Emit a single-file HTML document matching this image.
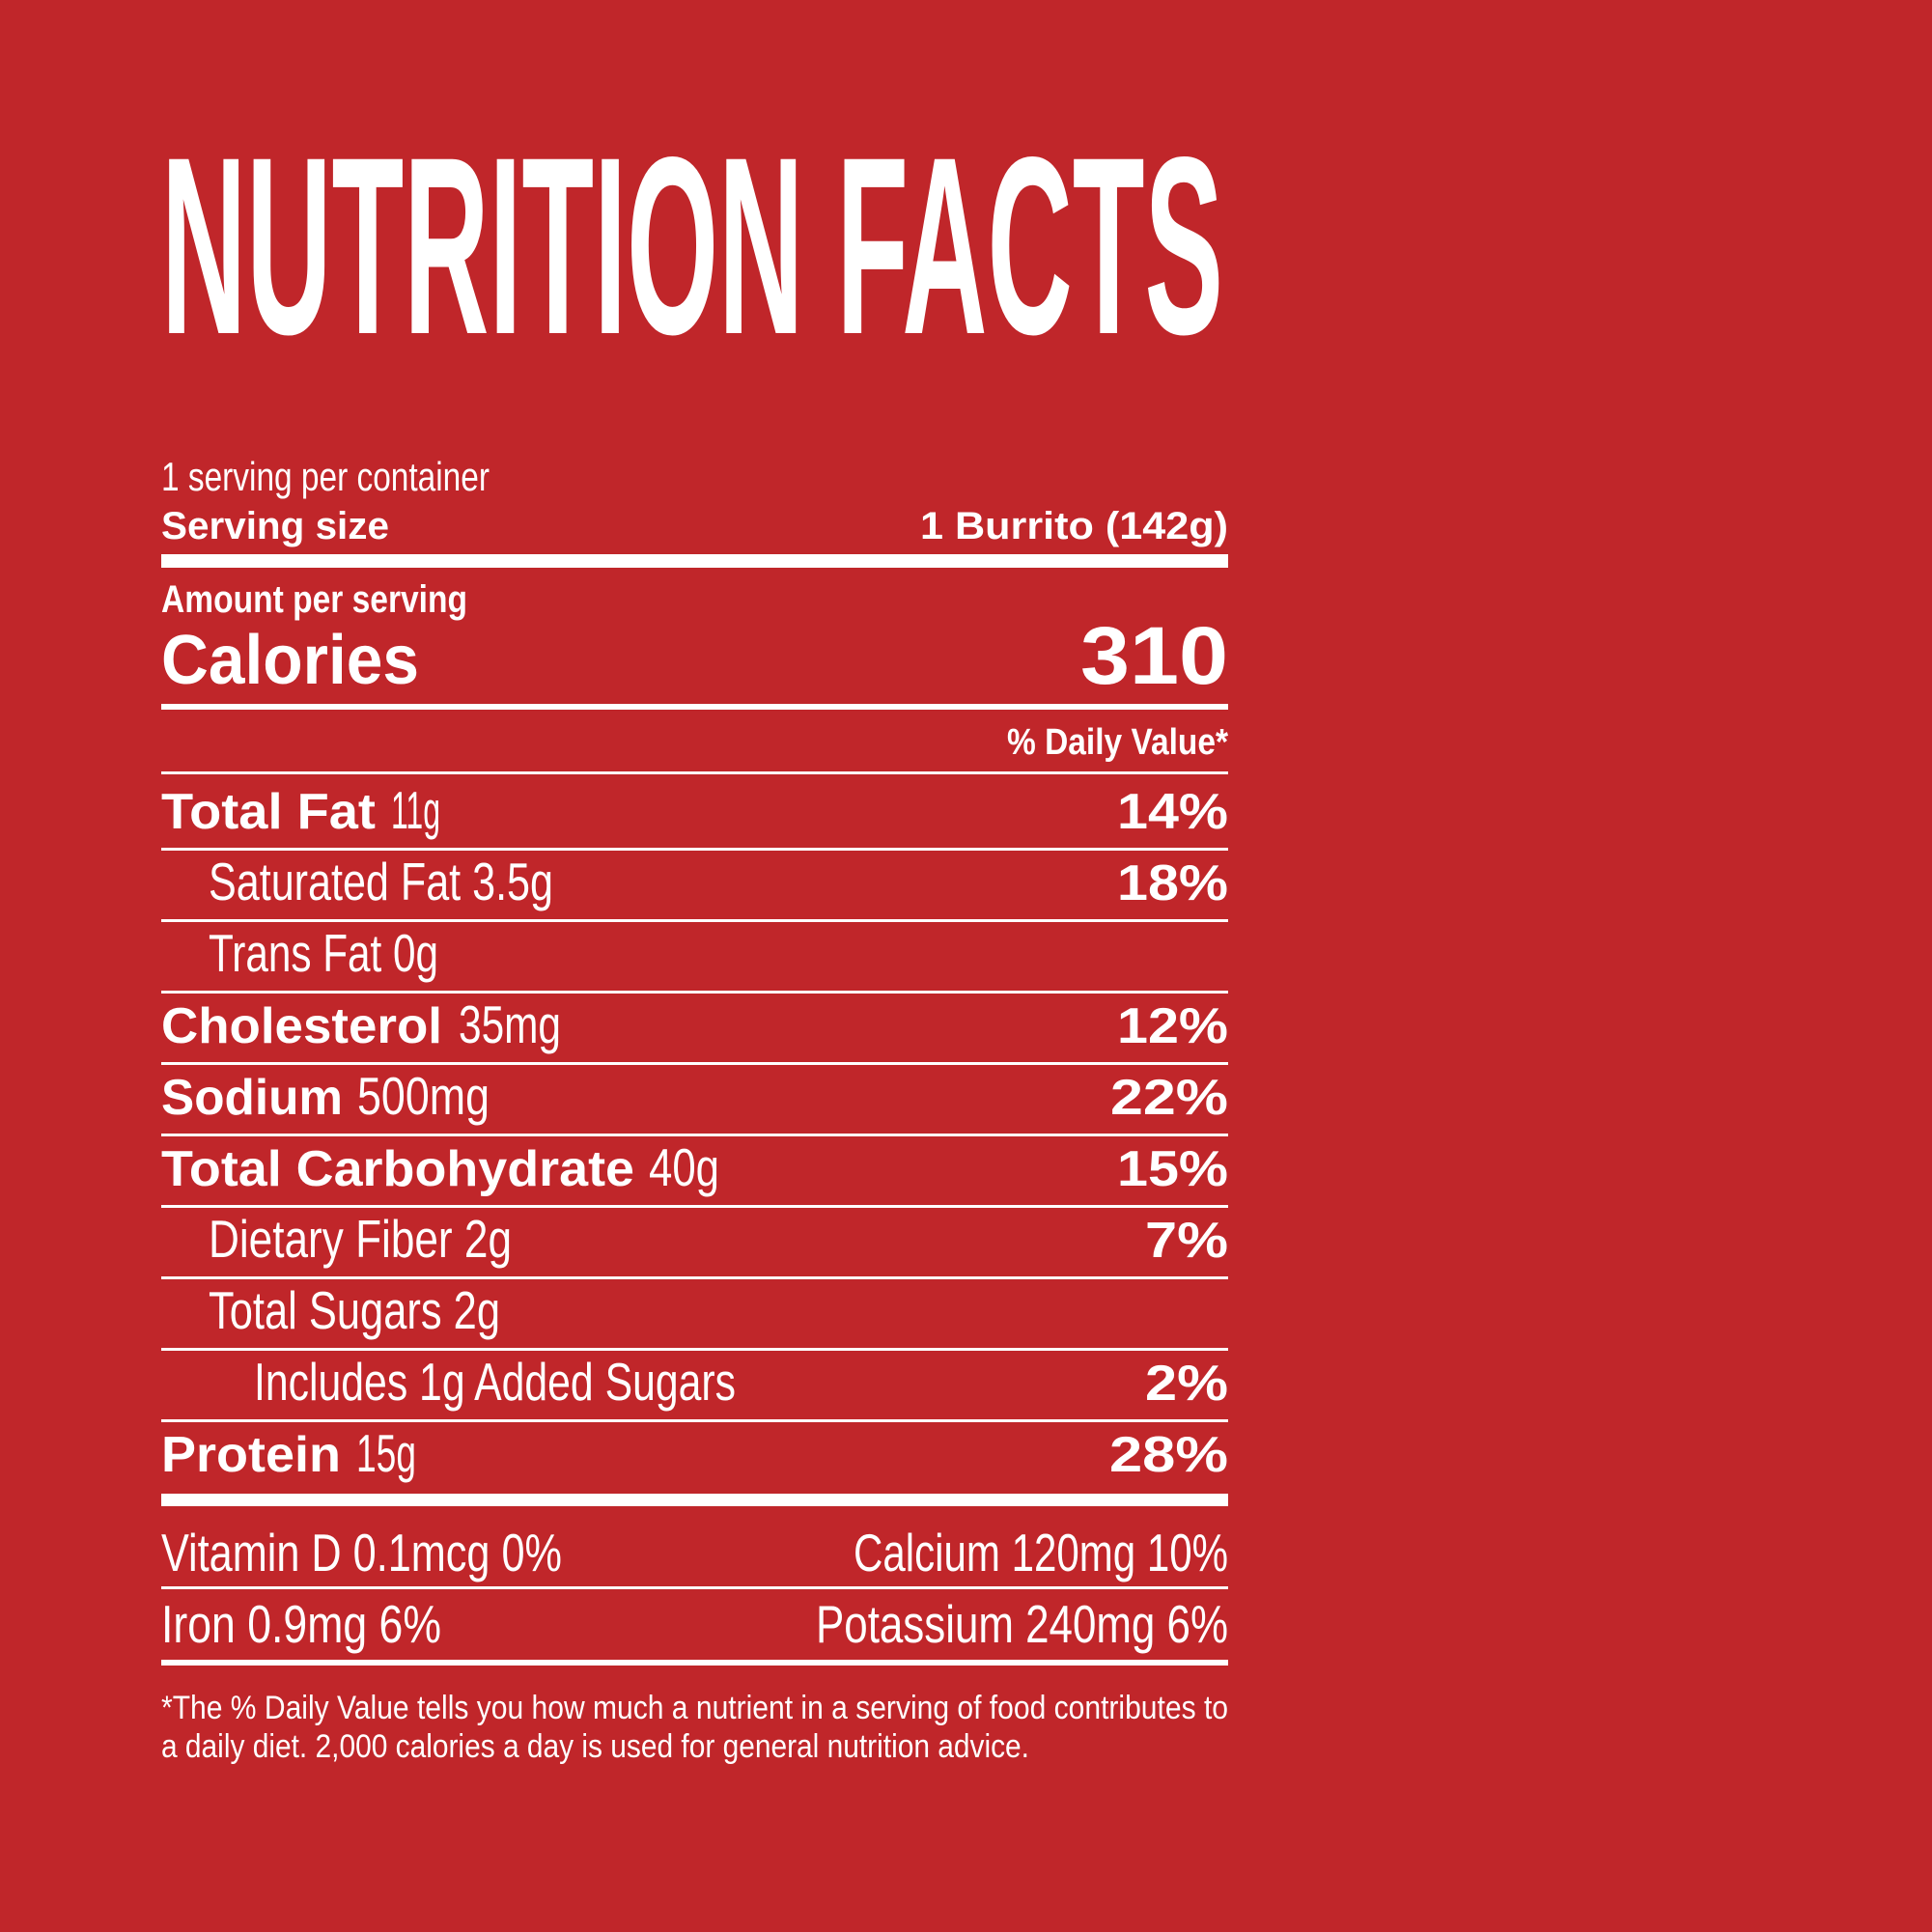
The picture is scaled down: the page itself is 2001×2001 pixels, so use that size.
<!DOCTYPE html>
<html><head><meta charset="utf-8"><style>
html,body{margin:0;padding:0;background:#c0262a}
svg{display:block}
text{fill:#fff;font-family:"Liberation Sans",sans-serif}
.b{font-weight:bold}
</style></head><body>
<svg width="2001" height="2001" viewBox="0 0 2001 2001">
<rect width="2001" height="2001" fill="#c0262a"/>
<text class="b" x="167" y="345" font-size="262" textLength="1100" lengthAdjust="spacingAndGlyphs">NUTRITION FACTS</text>

<text x="167" y="508" font-size="42" textLength="340" lengthAdjust="spacingAndGlyphs">1 serving per container</text>
<text class="b" x="167" y="558" font-size="40" textLength="236" lengthAdjust="spacingAndGlyphs">Serving size</text>
<text class="b" x="953" y="558" font-size="40" textLength="319" lengthAdjust="spacingAndGlyphs">1 Burrito (142g)</text>
<rect x="167" y="574" width="1105" height="14" fill="#fff"/>

<text class="b" x="167" y="634" font-size="40" textLength="317" lengthAdjust="spacingAndGlyphs">Amount per serving</text>
<text class="b" x="167" y="708" font-size="72" textLength="267" lengthAdjust="spacingAndGlyphs">Calories</text>
<text class="b" x="1119" y="708" font-size="84" textLength="153" lengthAdjust="spacingAndGlyphs">310</text>
<rect x="167" y="729" width="1105" height="6" fill="#fff"/>
<text class="b" x="1043" y="781" font-size="38" textLength="229" lengthAdjust="spacingAndGlyphs">% Daily Value*</text>
<rect x="167" y="799" width="1105" height="3" fill="#fff"/>

<g id="rows"></g>

<rect x="167" y="1547" width="1105" height="13" fill="#fff"/>
<text x="167" y="1627" font-size="55" textLength="415" lengthAdjust="spacingAndGlyphs">Vitamin D 0.1mcg 0%</text>
<text x="884" y="1627" font-size="55" textLength="388" lengthAdjust="spacingAndGlyphs">Calcium 120mg 10%</text>
<rect x="167" y="1643" width="1105" height="3" fill="#fff"/>
<text x="167" y="1701" font-size="55" textLength="290" lengthAdjust="spacingAndGlyphs">Iron 0.9mg 6%</text>
<text x="845" y="1701" font-size="55" textLength="427" lengthAdjust="spacingAndGlyphs">Potassium 240mg 6%</text>
<rect x="167" y="1719" width="1105" height="6" fill="#fff"/>

<text x="167" y="1780" font-size="34" textLength="1105" lengthAdjust="spacingAndGlyphs">*The % Daily Value tells you how much a nutrient in a serving of food contributes to</text>
<text x="167" y="1820" font-size="34" textLength="899" lengthAdjust="spacingAndGlyphs">a daily diet. 2,000 calories a day is used for general nutrition advice.</text>
</svg>
<script>
const boldLabels=["Total Fat","","","Cholesterol","Sodium","Total Carbohydrate","","","","Protein"];
const boldW=[222,0,0,291,188,490,0,0,0,186];
const regLabels=["11g","Saturated Fat 3.5g","Trans Fat 0g","35mg","500mg","40g","Dietary Fiber 2g","Total Sugars 2g","Includes 1g Added Sugars","15g"];
const regX=[405,216,216,475,370,672,216,216,263,369];
const regW=[51,357,238,106,137,73,314,302,499,62];
const pcts=["14%","18%","","12%","22%","15%","7%","","2%","28%"];
const pctW=[115,115,0,115,122,115,86,0,86,123];
const g=document.getElementById('rows');
const NS='http://www.w3.org/2000/svg';
for(let i=0;i<regLabels.length;i++){
  const base=858+i*74;
  if(boldLabels[i]){
    const t=document.createElementNS(NS,'text');
    
    
    t.setAttribute('class','b');t.setAttribute('x',167);t.setAttribute('y',base);
    t.setAttribute('font-size',52);t.setAttribute('textLength',boldW[i]);t.setAttribute('lengthAdjust','spacingAndGlyphs');
    t.textContent=boldLabels[i];g.appendChild(t);
  }
  const r=document.createElementNS(NS,'text');
  
  
  r.setAttribute('x',regX[i]);r.setAttribute('y',base);
  r.setAttribute('font-size',55);r.setAttribute('textLength',regW[i]);r.setAttribute('lengthAdjust','spacingAndGlyphs');
  r.textContent=regLabels[i];g.appendChild(r);
  if(pcts[i]){
    const p=document.createElementNS(NS,'text');
    
    
    p.setAttribute('class','b');p.setAttribute('x',1272-pctW[i]);p.setAttribute('y',base);
    p.setAttribute('font-size',52);p.setAttribute('textLength',pctW[i]);p.setAttribute('lengthAdjust','spacingAndGlyphs');
    p.textContent=pcts[i];g.appendChild(p);
  }
  if(i<regLabels.length-1){
    const l=document.createElementNS(NS,'rect');
    
    
    const lx=(i===1||i===6||i===7)?167:167;
    l.setAttribute('x',lx);l.setAttribute('y',878+i*74);l.setAttribute('width',1272-lx);l.setAttribute('height',3);l.setAttribute('fill','#fff');
    g.appendChild(l);
  }
}
</script>
</body></html>
